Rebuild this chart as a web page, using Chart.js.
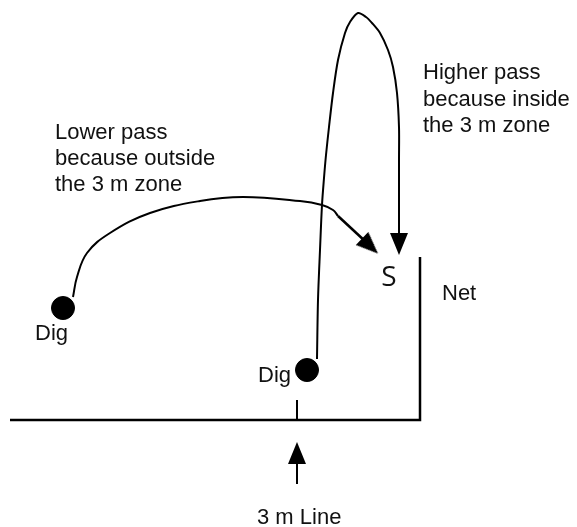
<!DOCTYPE html>
<html>
<head>
<meta charset="utf-8">
<script src="https://cdn.jsdelivr.net/npm/chart.js@4"></script>
<style>
  html, body { margin: 0; padding: 0; background: #fff; }
  #wrap { width: 577px; height: 527px; position: relative; }
</style>
</head>
<body>
<div id="wrap"><canvas id="myChart"></canvas></div>
<script>
// court outline: floor and net (x, y in page units, y grows downward)
const courtLine = [[10, 420], [420, 420], [420, 257]];
const threeMeterTick = [[297, 400], [297, 420]];
const threeMeterShaft = [[297, 484], [297, 458]];

// the two passes
const lowerPass = [[73, 297], [77, 277], [87, 253], [110, 233], [150, 213], [200, 201], [243, 197], [300, 201], [322, 205], [333, 210], [338, 216]];
const lowerPassShaft = [[338, 216], [366, 242]];
const higherPass = [[317, 359], [318, 300], [320, 250], [322, 205], [324, 178], [326, 155], [329, 127], [333, 93], [338, 60], [345, 33], [350, 22], [358, 13], [366, 17], [372, 23], [380, 33], [388, 50], [393, 67], [397, 93], [399, 127], [399, 160], [399, 238]];

const digSpots = [[63, 308], [307, 370]];
const arrowTips = [[297, 453], [370, 246], [399, 244]];
const arrowAngles = [0, 133.6, 180];

const noteLines = ['Lower pass', 'because outside', 'the 3 m zone', 'Higher pass', 'because inside', 'the 3 m zone', 'Dig', 'Dig', 'Net', '3 m Line', 'S'];
const noteAnchors = [[55, 139], [55, 165], [55, 191], [423, 79], [423, 106], [423, 132], [35, 340], [258, 382], [442, 300], [257, 524], [389, 286]];


function toPoints(list) {
    return list.map(p => ({ x: p[0], y: p[1] }));
}

function makeArrowHead() {
    const c = document.createElement('canvas');
    c.width = 18;
    c.height = 22;
    const g = c.getContext('2d');
    g.fillStyle = '#000';
    g.beginPath();
    g.moveTo(9, 0);
    g.lineTo(18, 22);
    g.lineTo(0, 22);
    g.closePath();
    g.fill();
    return c;
}

function lineSet(list, width, tension) {
    return {
        data: toPoints(list),
        showLine: true,
        borderColor: '#000',
        borderWidth: width,
        pointRadius: 0,
        tension: tension,
        fill: false,
        clip: false,
    };
}

const notesPlugin = {
    id: 'notes',
    afterDraw(chart) {
        const ctx = chart.ctx;
        const xs = chart.scales.x;
        const ys = chart.scales.y;
        ctx.save();
        ctx.fillStyle = '#111';
        ctx.textBaseline = 'alphabetic';
        noteLines.forEach((text, i) => {
            if (text === 'S') {
                ctx.font = '28px "Open Sans"';
                ctx.textAlign = 'center';
            } else {
                ctx.font = '22px "Liberation Sans", Arial, sans-serif';
                ctx.textAlign = 'left';
            }
            ctx.fillText(text, xs.getPixelForValue(noteAnchors[i][0]), ys.getPixelForValue(noteAnchors[i][1]));
        });
        ctx.restore();
    }
};

const data = {
    datasets: [
        lineSet(courtLine, 2.5, 0),
        lineSet(threeMeterTick, 2, 0),
        lineSet(threeMeterShaft, 2, 0),
        lineSet(lowerPass, 2, 0.4),
        lineSet(lowerPassShaft, 2.5, 0),
        lineSet(higherPass, 2, 0.3),
        {
            data: toPoints(digSpots),
            showLine: false,
            pointRadius: 11.5,
            pointBackgroundColor: '#000',
            pointBorderColor: '#000',
            clip: false,
        },
        {
            data: toPoints(arrowTips),
            showLine: false,
            pointRadius: 11,
            pointStyle: makeArrowHead(),
            pointRotation: arrowAngles,
            clip: false,
        },
    ],
};

const config = {
    type: 'scatter',
    data: data,
    options: {
        responsive: true,
        maintainAspectRatio: false,
        animation: false,
        layout: { padding: 0, autoPadding: false },
        plugins: {
            legend: { display: false },
            tooltip: { enabled: false },
        },
        scales: {
            x: { type: 'linear', min: 0, max: 577, display: false },
            y: { type: 'linear', min: 0, max: 527, reverse: true, display: false },
        },
    },
    plugins: [notesPlugin],
};

const ctx = document.getElementById('myChart').getContext('2d');
new Chart(ctx, config);
</script>
</body>
</html>
